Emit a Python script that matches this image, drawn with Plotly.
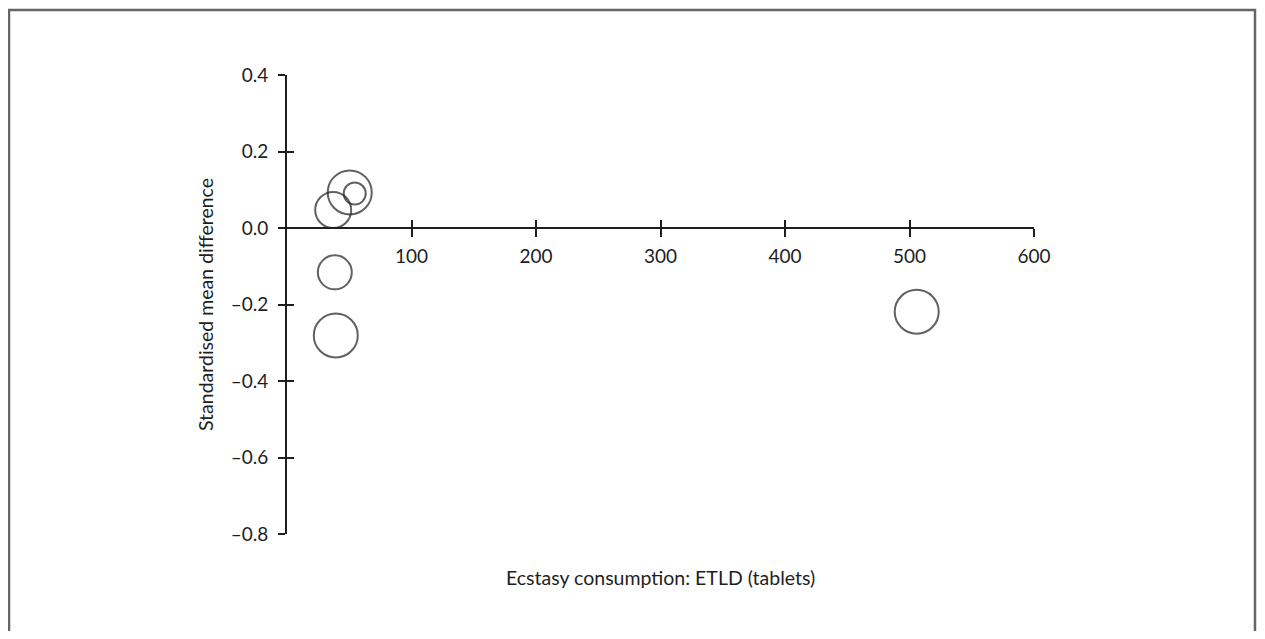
import plotly.graph_objects as go

# Data
etld_tablets = [50.4, 54.4, 37.1, 38.4, 39.2, 505.8]
smd_values = [0.093, 0.090, 0.047, -0.116, -0.281, -0.219]
bubble_sizes = [44, 22, 36, 34, 44, 44]

x_tick_vals = [100, 200, 300, 400, 500, 600]
x_tick_text = ["100", "200", "300", "400", "500", "600"]
y_tick_vals = [0.4, 0.2, 0.0, -0.2, -0.4, -0.6, -0.8]
y_tick_text = ["0.4", "0.2", "0.0", "–0.2", "–0.4", "–0.6", "–0.8"]

x_title = "Ecstasy consumption: ETLD (tablets)"
y_title = "Standardised mean difference"

OFF = 8  # page body margin offset
W, H = 1265 - 2 * OFF, 639 - 2 * OFF
L, T = 287 - OFF, 75 - OFF
plot_w, plot_h = 747, 459
R = W - L - plot_w
B = H - T - plot_h

y_range = [-0.8, 0.4]
x_axis_pos = (0 - y_range[0]) / (y_range[1] - y_range[0])

FONT = "Lato"
INK = "#1e1e1e"
TICK_SIZE = 19
TITLE_SIZE = 19.5

fig = go.Figure()
fig.add_trace(go.Scatter(
    x=etld_tablets, y=smd_values, mode="markers",
    marker=dict(symbol="circle-open", size=bubble_sizes, color=INK,
                line=dict(width=2, color=INK)),
    showlegend=False, hoverinfo="x+y",
))
# empty trace for the overlay axes (tick marks crossing the axis lines)
fig.add_trace(go.Scatter(x=[], y=[], xaxis="x2", yaxis="y2", showlegend=False))

common_x = dict(range=[0, 600], tickvals=x_tick_vals, anchor="free",
                position=x_axis_pos, showgrid=False, zeroline=False,
                ticklen=8, tickwidth=1.5, tickcolor=INK)
common_y = dict(range=y_range, tickvals=y_tick_vals, showgrid=False,
                zeroline=False, ticklen=7, tickwidth=1.5, tickcolor=INK)

fig.update_layout(
    width=W, height=H,
    margin=dict(l=L, r=R, t=T, b=B, autoexpand=False),
    paper_bgcolor="white", plot_bgcolor="white",
    font=dict(family=FONT, size=TICK_SIZE, color=INK),
    xaxis=dict(**common_x, ticktext=x_tick_text, ticks="outside",
               showline=True, linecolor=INK, linewidth=2,
               tickfont=dict(family=FONT, size=TICK_SIZE, color=INK),
               ticklabelstandoff=3),
    xaxis2=dict(**common_x, overlaying="x", ticks="inside",
                showticklabels=False, showline=False),
    yaxis=dict(**common_y, ticktext=y_tick_text, ticks="outside",
               showline=True, linecolor=INK, linewidth=2,
               tickfont=dict(family=FONT, size=TICK_SIZE, color=INK),
               ticklabelstandoff=6,
               title=dict(text=y_title, standoff=12,
                          font=dict(family=FONT, size=TITLE_SIZE, color=INK))),
    yaxis2=dict(**common_y, overlaying="y", anchor="x", ticks="inside",
                showticklabels=False, showline=False),
    annotations=[dict(text=x_title, x=0.5, xref="paper",
                      y=(534 - 577) / plot_h, yref="paper",
                      xanchor="center", yanchor="middle", showarrow=False,
                      font=dict(family=FONT, size=TITLE_SIZE, color=INK))],
    shapes=[dict(type="rect", xref="paper", yref="paper",
                 x0=(OFF + 1 - 287) / plot_w, x1=(W - 2 + OFF - 287) / plot_w,
                 y0=(534 - 660) / plot_h, y1=(534 - 10) / plot_h,
                 line=dict(color="#666666", width=2.5),
                 fillcolor="rgba(0,0,0,0)", layer="below")],
)

fig.write_html("out.html")
